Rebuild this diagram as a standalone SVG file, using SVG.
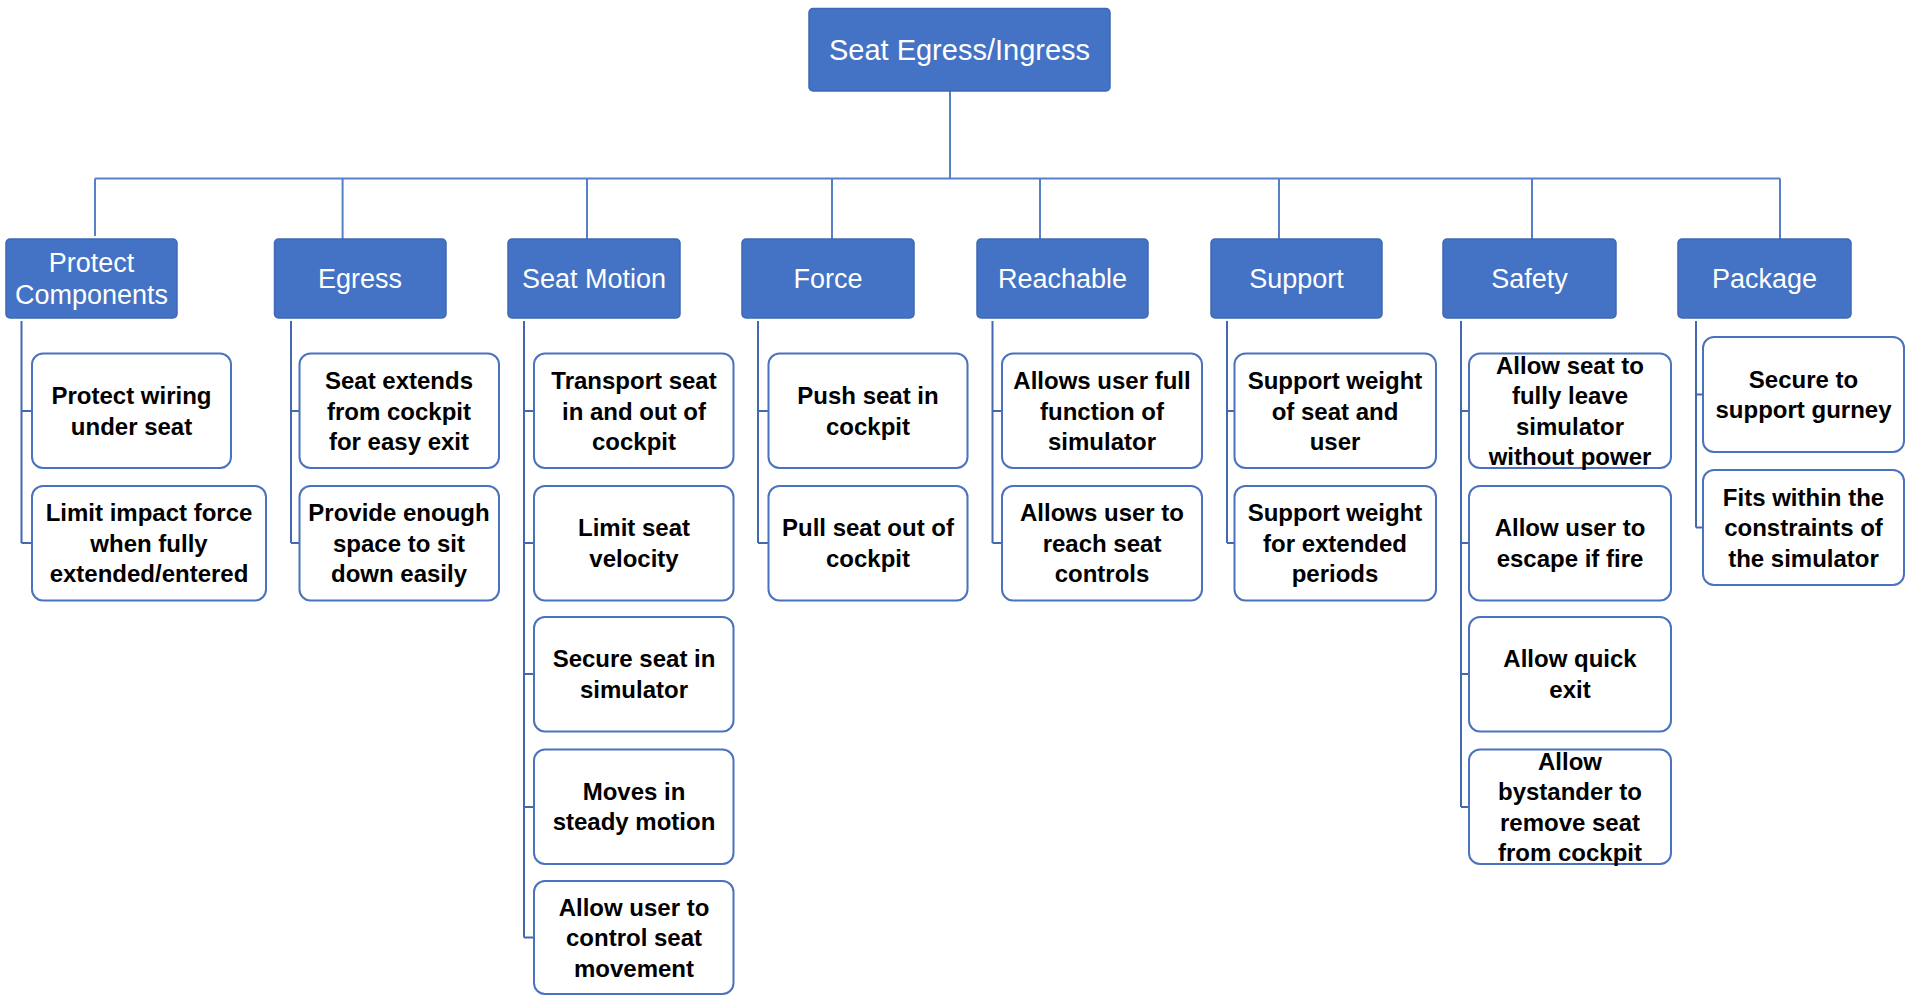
<svg xmlns="http://www.w3.org/2000/svg" width="1905" height="995" viewBox="0 0 1905 995">
<style>
.bg{fill:#ffffff}
.top{fill:#4472C4;stroke:#3F68B5;stroke-width:1.5}
.hd{fill:#4472C4;stroke:#3F68B5;stroke-width:1.5}
.leaf{fill:#ffffff;stroke:#4A72BE;stroke-width:2}
.ht{font-family:"Liberation Sans",Arial,sans-serif;font-size:27px;fill:#ffffff;text-anchor:middle}
.tt{font-family:"Liberation Sans",Arial,sans-serif;font-size:29px;fill:#ffffff;text-anchor:middle}
.lt{font-family:"Liberation Sans",Arial,sans-serif;font-size:24px;font-weight:bold;fill:#000000;text-anchor:middle}
.bus{fill:none;stroke:#5680C8;stroke-width:2}
.tree{fill:none;stroke:#4468AE;stroke-width:2}
</style>
<rect class="bg" x="0" y="0" width="1905" height="995"/>

<g id="connectors">
  <path class="bus" d="M950 91 V178.6 M95 178.6 H1780 M95 178.6 V236 M342.6 178.6 V239 M587 178.6 V239 M832 178.6 V239 M1040 178.6 V239 M1279 178.6 V239 M1532 178.6 V239 M1780 178.6 V239"/>
  <path class="tree" d="M21.5 321 V543 M21.5 411 H32 M21.5 543 H32"/>
  <path class="tree" d="M291 321 V543 M291 411 H299.5 M291 543 H299.5"/>
  <path class="tree" d="M524 321 V937.5 M524 411 H534 M524 543 H534 M524 674 H534 M524 807 H534 M524 937.5 H534"/>
  <path class="tree" d="M758 321 V543 M758 411 H768.5 M758 543 H768.5"/>
  <path class="tree" d="M992.5 321 V543 M992.5 411 H1002 M992.5 543 H1002"/>
  <path class="tree" d="M1227 321 V543 M1227 411 H1234.5 M1227 543 H1234.5"/>
  <path class="tree" d="M1461 321 V807 M1461 411 H1469 M1461 543 H1469 M1461 674 H1469 M1461 807 H1469"/>
  <path class="tree" d="M1696 321 V527.5 M1696 394.5 H1703 M1696 527.5 H1703"/>
</g>

<g id="root">
  <rect class="top" x="809" y="8.5" width="301" height="82.5" rx="4"/>
  <text class="tt" x="959.5" y="59.5">Seat Egress/Ingress</text>
</g>

<g id="protect-components">
  <rect class="hd" x="6" y="239" width="171" height="79" rx="4"/>
  <text class="ht" x="91.5" y="272">Protect</text>
  <text class="ht" x="91.5" y="304">Components</text>
</g>
<g id="egress">
  <rect class="hd" x="274.5" y="239" width="171.5" height="79" rx="4"/>
  <text class="ht" x="360" y="288">Egress</text>
</g>
<g id="seat-motion">
  <rect class="hd" x="508" y="239" width="172" height="79" rx="4"/>
  <text class="ht" x="594" y="288">Seat Motion</text>
</g>
<g id="force">
  <rect class="hd" x="742" y="239" width="172" height="79" rx="4"/>
  <text class="ht" x="828" y="288">Force</text>
</g>
<g id="reachable">
  <rect class="hd" x="977" y="239" width="171" height="79" rx="4"/>
  <text class="ht" x="1062.5" y="288">Reachable</text>
</g>
<g id="support">
  <rect class="hd" x="1211" y="239" width="171" height="79" rx="4"/>
  <text class="ht" x="1296.5" y="288">Support</text>
</g>
<g id="safety">
  <rect class="hd" x="1443" y="239" width="173" height="79" rx="4"/>
  <text class="ht" x="1529.5" y="288">Safety</text>
</g>
<g id="package">
  <rect class="hd" x="1678" y="239" width="173" height="79" rx="4"/>
  <text class="ht" x="1764.5" y="288">Package</text>
</g>

<!-- Protect Components leaves -->
<g id="protect-wiring">
  <rect class="leaf" x="32" y="353.5" width="199" height="114.5" rx="11"/>
  <text class="lt" x="131.5" y="404">Protect wiring</text>
  <text class="lt" x="131.5" y="435">under seat</text>
</g>
<g id="limit-impact">
  <rect class="leaf" x="32" y="486" width="234" height="114.5" rx="11"/>
  <text class="lt" x="149" y="521">Limit impact force</text>
  <text class="lt" x="149" y="551.5">when fully</text>
  <text class="lt" x="149" y="582">extended/entered</text>
</g>

<!-- Egress leaves -->
<g id="seat-extends">
  <rect class="leaf" x="299.5" y="353.5" width="199.5" height="114.5" rx="11"/>
  <text class="lt" x="399" y="389">Seat extends</text>
  <text class="lt" x="399" y="419.5">from cockpit</text>
  <text class="lt" x="399" y="450">for easy exit</text>
</g>
<g id="provide-space">
  <rect class="leaf" x="299.5" y="486" width="199.5" height="114.5" rx="11"/>
  <text class="lt" x="399" y="521">Provide enough</text>
  <text class="lt" x="399" y="551.5">space to sit</text>
  <text class="lt" x="399" y="582">down easily</text>
</g>

<!-- Seat Motion leaves -->
<g id="transport-seat">
  <rect class="leaf" x="534" y="353.5" width="199.5" height="114.5" rx="11"/>
  <text class="lt" x="634" y="389">Transport seat</text>
  <text class="lt" x="634" y="419.5">in and out of</text>
  <text class="lt" x="634" y="450">cockpit</text>
</g>
<g id="limit-velocity">
  <rect class="leaf" x="534" y="486" width="199.5" height="114.5" rx="11"/>
  <text class="lt" x="634" y="536">Limit seat</text>
  <text class="lt" x="634" y="567">velocity</text>
</g>
<g id="secure-seat">
  <rect class="leaf" x="534" y="617" width="199.5" height="114.5" rx="11"/>
  <text class="lt" x="634" y="667">Secure seat in</text>
  <text class="lt" x="634" y="698">simulator</text>
</g>
<g id="steady-motion">
  <rect class="leaf" x="534" y="749.5" width="199.5" height="114.5" rx="11"/>
  <text class="lt" x="634" y="800">Moves in</text>
  <text class="lt" x="634" y="830">steady motion</text>
</g>
<g id="control-movement">
  <rect class="leaf" x="534" y="881" width="199.5" height="113" rx="11"/>
  <text class="lt" x="634" y="915.5">Allow user to</text>
  <text class="lt" x="634" y="946">control seat</text>
  <text class="lt" x="634" y="976.5">movement</text>
</g>

<!-- Force leaves -->
<g id="push-seat">
  <rect class="leaf" x="768.5" y="353.5" width="199" height="114.5" rx="11"/>
  <text class="lt" x="868" y="404">Push seat in</text>
  <text class="lt" x="868" y="435">cockpit</text>
</g>
<g id="pull-seat">
  <rect class="leaf" x="768.5" y="486" width="199" height="114.5" rx="11"/>
  <text class="lt" x="868" y="536">Pull seat out of</text>
  <text class="lt" x="868" y="567">cockpit</text>
</g>

<!-- Reachable leaves -->
<g id="full-function">
  <rect class="leaf" x="1002" y="353.5" width="200" height="114.5" rx="11"/>
  <text class="lt" x="1102" y="389">Allows user full</text>
  <text class="lt" x="1102" y="419.5">function of</text>
  <text class="lt" x="1102" y="450">simulator</text>
</g>
<g id="reach-controls">
  <rect class="leaf" x="1002" y="486" width="200" height="114.5" rx="11"/>
  <text class="lt" x="1102" y="521">Allows user to</text>
  <text class="lt" x="1102" y="551.5">reach seat</text>
  <text class="lt" x="1102" y="582">controls</text>
</g>

<!-- Support leaves -->
<g id="support-weight-user">
  <rect class="leaf" x="1234.5" y="353.5" width="201.5" height="114.5" rx="11"/>
  <text class="lt" x="1335" y="389">Support weight</text>
  <text class="lt" x="1335" y="419.5">of seat and</text>
  <text class="lt" x="1335" y="450">user</text>
</g>
<g id="support-weight-extended">
  <rect class="leaf" x="1234.5" y="486" width="201.5" height="114.5" rx="11"/>
  <text class="lt" x="1335" y="521">Support weight</text>
  <text class="lt" x="1335" y="551.5">for extended</text>
  <text class="lt" x="1335" y="582">periods</text>
</g>

<!-- Safety leaves -->
<g id="leave-without-power">
  <rect class="leaf" x="1469" y="353.5" width="202" height="114.5" rx="11"/>
  <text class="lt" x="1570" y="374">Allow seat to</text>
  <text class="lt" x="1570" y="404">fully leave</text>
  <text class="lt" x="1570" y="435">simulator</text>
  <text class="lt" x="1570" y="465">without power</text>
</g>
<g id="escape-fire">
  <rect class="leaf" x="1469" y="486" width="202" height="114.5" rx="11"/>
  <text class="lt" x="1570" y="536">Allow user to</text>
  <text class="lt" x="1570" y="567">escape if fire</text>
</g>
<g id="quick-exit">
  <rect class="leaf" x="1469" y="617" width="202" height="114.5" rx="11"/>
  <text class="lt" x="1570" y="667">Allow quick</text>
  <text class="lt" x="1570" y="698">exit</text>
</g>
<g id="bystander">
  <rect class="leaf" x="1469" y="749.5" width="202" height="114.5" rx="11"/>
  <text class="lt" x="1570" y="770">Allow</text>
  <text class="lt" x="1570" y="800">bystander to</text>
  <text class="lt" x="1570" y="831">remove seat</text>
  <text class="lt" x="1570" y="861">from cockpit</text>
</g>

<!-- Package leaves -->
<g id="support-gurney">
  <rect class="leaf" x="1703" y="337" width="201" height="115" rx="11"/>
  <text class="lt" x="1803.5" y="388">Secure to</text>
  <text class="lt" x="1803.5" y="418">support gurney</text>
</g>
<g id="fits-within">
  <rect class="leaf" x="1703" y="470" width="201" height="115" rx="11"/>
  <text class="lt" x="1803.5" y="505.5">Fits within the</text>
  <text class="lt" x="1803.5" y="536">constraints of</text>
  <text class="lt" x="1803.5" y="566.5">the simulator</text>
</g>
</svg>
